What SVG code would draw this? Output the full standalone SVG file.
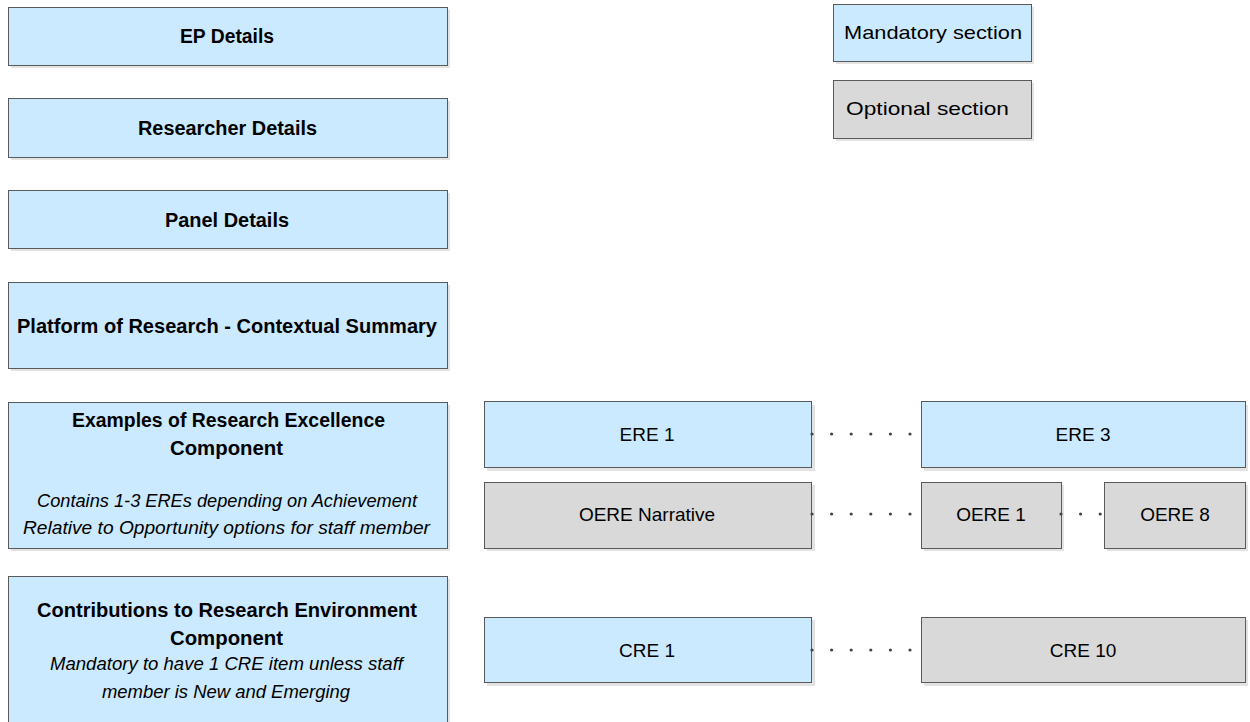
<svg xmlns="http://www.w3.org/2000/svg" width="1250" height="722" viewBox="0 0 1250 722">
<style>
.sh{fill:#e3e3e3}
.m{fill:#cceaff;stroke:#5a5a5a;stroke-width:1}
.o{fill:#d9d9d9;stroke:#5a5a5a;stroke-width:1}
text{font-family:"Liberation Sans",Arial,sans-serif;fill:#000;text-anchor:middle}
.b{font-weight:bold;font-size:20px}
.r{font-size:19px}
.i{font-style:italic;font-size:19px}
.dots{stroke:#444;stroke-width:3.2;stroke-linecap:round;stroke-dasharray:0 19.6;fill:none}
</style>
<rect width="1250" height="722" fill="#fff"/>
<g id="ep">
<rect class="sh" x="11" y="10" width="439" height="58"/>
<rect class="m" x="8.5" y="7.5" width="439" height="58"/>
<text class="b" x="227" y="43" textLength="94" lengthAdjust="spacingAndGlyphs">EP Details</text>
</g>
<g id="researcher">
<rect class="sh" x="11" y="101" width="439" height="59"/>
<rect class="m" x="8.5" y="98.5" width="439" height="59"/>
<text class="b" x="227.5" y="135" textLength="179" lengthAdjust="spacingAndGlyphs">Researcher Details</text>
</g>
<g id="panel">
<rect class="sh" x="11" y="193" width="439" height="58"/>
<rect class="m" x="8.5" y="190.5" width="439" height="58"/>
<text class="b" x="227" y="227" textLength="124" lengthAdjust="spacingAndGlyphs">Panel Details</text>
</g>
<g id="platform">
<rect class="sh" x="11" y="285" width="439" height="86"/>
<rect class="m" x="8.5" y="282.5" width="439" height="86"/>
<text class="b" x="227" y="333" textLength="420" lengthAdjust="spacingAndGlyphs">Platform of Research - Contextual Summary</text>
</g>
<g id="ere-component">
<rect class="sh" x="11" y="405" width="439" height="146"/>
<rect class="m" x="8.5" y="402.5" width="439" height="146"/>
<text class="b" x="228.5" y="427" textLength="313" lengthAdjust="spacingAndGlyphs">Examples of Research Excellence</text>
<text class="b" x="226.5" y="455" textLength="113" lengthAdjust="spacingAndGlyphs">Component</text>
<text class="i" x="227" y="507" textLength="380" lengthAdjust="spacingAndGlyphs">Contains 1-3 EREs depending on Achievement</text>
<text class="i" x="226.5" y="534" textLength="407" lengthAdjust="spacingAndGlyphs">Relative to Opportunity options for staff member</text>
</g>
<g id="cre-component">
<rect class="sh" x="11" y="579" width="439" height="160"/>
<rect class="m" x="8.5" y="576.5" width="439" height="160"/>
<text class="b" x="227" y="617" textLength="380" lengthAdjust="spacingAndGlyphs">Contributions to Research Environment</text>
<text class="b" x="226.5" y="645" textLength="113" lengthAdjust="spacingAndGlyphs">Component</text>
<text class="i" x="226.5" y="670" textLength="353" lengthAdjust="spacingAndGlyphs">Mandatory to have 1 CRE item unless staff</text>
<text class="i" x="226" y="698" textLength="248" lengthAdjust="spacingAndGlyphs">member is New and Emerging</text>
</g>
<g id="legend-mandatory">
<rect class="sh" x="836" y="7" width="198" height="57"/>
<rect class="m" x="833.5" y="4.5" width="198" height="57"/>
<text class="r" x="933" y="39" textLength="178" lengthAdjust="spacingAndGlyphs">Mandatory section</text>
</g>
<g id="legend-optional">
<rect class="sh" x="836" y="83" width="198" height="58"/>
<rect class="o" x="833.5" y="80.5" width="198" height="58"/>
<text class="r" x="927.5" y="115" textLength="163" lengthAdjust="spacingAndGlyphs">Optional section</text>
</g>
<g id="ere1">
<rect class="sh" x="487" y="405" width="328" height="66"/>
<rect class="m" x="484.5" y="401.5" width="327" height="66"/>
<text class="r" x="647" y="441">ERE 1</text>
</g>
<g id="ere3">
<rect class="sh" x="924" y="405" width="324" height="66"/>
<rect class="m" x="921.5" y="401.5" width="324" height="66"/>
<text class="r" x="1083" y="441">ERE 3</text>
</g>
<g id="oere-narrative">
<rect class="sh" x="487" y="485" width="328" height="66"/>
<rect class="o" x="484.5" y="482.5" width="327" height="66"/>
<text class="r" x="647" y="521">OERE Narrative</text>
</g>
<g id="oere1">
<rect class="sh" x="924" y="485" width="140" height="66"/>
<rect class="o" x="921.5" y="482.5" width="140" height="66"/>
<text class="r" x="991" y="521">OERE 1</text>
</g>
<g id="oere8">
<rect class="sh" x="1107" y="485" width="141" height="66"/>
<rect class="o" x="1104.5" y="482.5" width="141" height="66"/>
<text class="r" x="1175" y="521">OERE 8</text>
</g>
<g id="cre1">
<rect class="sh" x="487" y="620" width="328" height="66"/>
<rect class="m" x="484.5" y="617.5" width="327" height="65"/>
<text class="r" x="647" y="657">CRE 1</text>
</g>
<g id="cre10">
<rect class="sh" x="924" y="620" width="324" height="66"/>
<rect class="o" x="921.5" y="617.5" width="324" height="65"/>
<text class="r" x="1083" y="657">CRE 10</text>
</g>
<g id="connectors">
<line class="dots" x1="812" y1="434" x2="921" y2="434"/>
<line class="dots" x1="812" y1="514" x2="921" y2="514"/>
<line class="dots" x1="1061" y1="514" x2="1104" y2="514"/>
<line class="dots" x1="812" y1="650" x2="921" y2="650"/>
</g>
</svg>
